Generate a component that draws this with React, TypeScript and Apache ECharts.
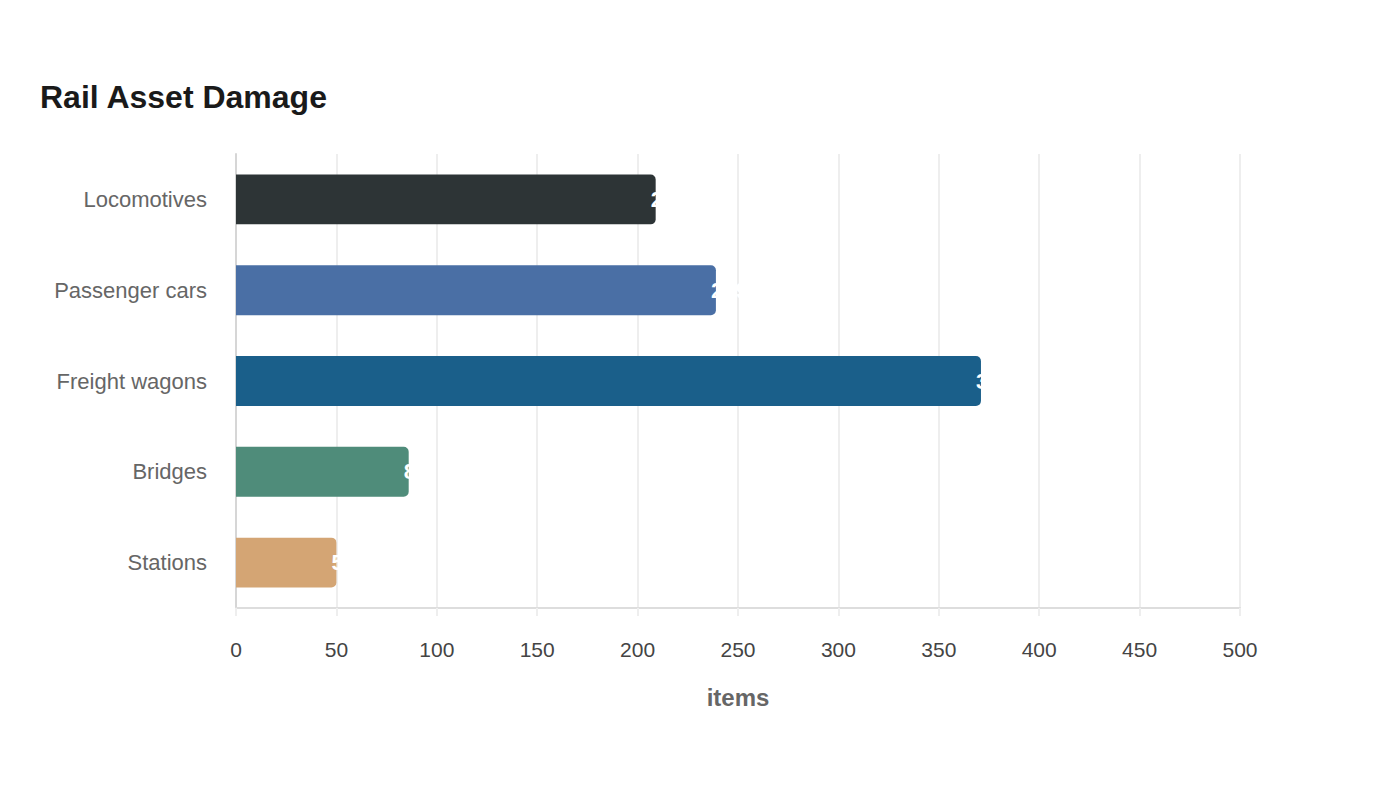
import React, { useEffect, useRef } from "react";
import * as echarts from "echarts";

const categories = ["Locomotives", "Passenger cars", "Freight wagons", "Bridges", "Stations"];
const values = [209, 239, 371, 86, 50];
const colors = ["#2d3436", "#4a6fa5", "#1a5f8a", "#4f8c7a", "#d4a574"];
const xTicks = [0, 50, 100, 150, 200, 250, 300, 350, 400, 450, 500];

export default function App() {
  const ref = useRef<HTMLDivElement>(null);
  useEffect(() => {
    const chart = echarts.init(ref.current!, null, { renderer: "svg" });
    chart.setOption({
      animation: false,
      backgroundColor: "#ffffff",
      textStyle: { fontFamily: "Liberation Sans, Arial, sans-serif" },
      title: {
        text: "Rail Asset Damage",
        left: 35,
        top: 76,
        textStyle: { fontSize: 32, fontWeight: "bold", color: "#1a1a1a", fontFamily: "Liberation Sans, Arial, sans-serif" },
      },
      grid: { left: 236, right: 160, top: 154, bottom: 192, containLabel: false },
      xAxis: {
        type: "value",
        min: xTicks[0],
        max: xTicks[xTicks.length - 1],
        interval: 50,
        name: "items",
        nameLocation: "middle",
        nameGap: 77,
        nameTextStyle: { fontSize: 24, fontWeight: "bold", color: "#666666" },
        axisLine: { show: true, lineStyle: { color: "#dddddd", width: 2 } },
        axisTick: { show: true, length: 8, lineStyle: { color: "#eeeeee", width: 2 } },
        axisLabel: { fontSize: 21, color: "#444444", margin: 31 },
        splitLine: { show: true, lineStyle: { color: "#eeeeee", width: 2 } },
      },
      yAxis: {
        type: "category",
        data: categories,
        inverse: true,
        axisLine: { show: true, lineStyle: { color: "#d6d6d6", width: 2 } },
        axisTick: { show: false },
        axisLabel: { fontSize: 22, color: "#666666", margin: 29 },
      },
      series: [
        {
          type: "bar",
          barWidth: "55%",
          data: values.map((v, i) => ({ value: v, itemStyle: { color: colors[i] } })),
          itemStyle: { borderRadius: [0, 5, 5, 0] },
          label: {
            show: true,
            position: "insideRight",
            align: "left",
            distance: 5,
            color: "#ffffff",
            fontSize: 22,
            fontWeight: "bold",
          },
        },
      ],
    });
    return () => chart.dispose();
  }, []);
  return <div ref={ref} style={{ position: "fixed", left: 0, top: 0, width: 1400, height: 800 }} />;
}
